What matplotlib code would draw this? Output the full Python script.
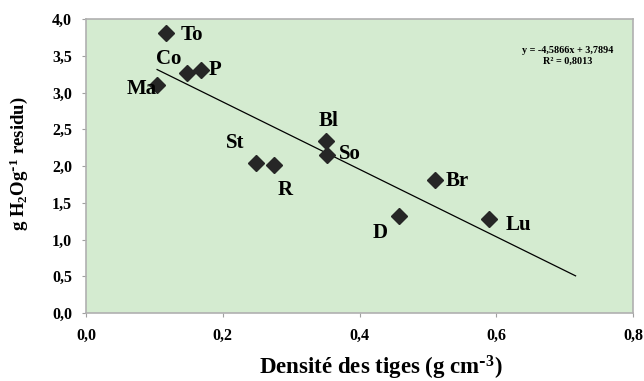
import numpy as np
import matplotlib.pyplot as plt

plt.rcParams['font.family'] = ['Liberation Serif', 'DejaVu Serif']
plt.rcParams['font.weight'] = 'bold'
plt.rcParams['mathtext.default'] = 'regular'

# species labels and values
labels = ['To', 'Co', 'P', 'Ma', 'St', 'R', 'Bl', 'So', 'Br', 'D', 'Lu']
densite = [0.117, 0.148, 0.168, 0.104, 0.249, 0.275, 0.351, 0.352, 0.510, 0.458, 0.589]
residu = [3.81, 3.26, 3.31, 3.10, 2.04, 2.01, 2.34, 2.15, 1.81, 1.32, 1.28]

slope, intercept = -4.5866, 3.7894
trend_x = [0.104, 0.716]

# label centre offsets from the marker, in pixels (dx, dy)
offsets = {
    'To': (26, -2), 'Co': (-19, 14), 'P': (14, 0), 'Ma': (-15, -4),
    'St': (-21, 20), 'R': (11, -25), 'Bl': (3, 20), 'So': (23, 1),
    'Br': (23, -1), 'D': (-19, -17), 'Lu': (30, -6),
}

fig = plt.figure(figsize=(6.44, 3.81), dpi=100)
ax = fig.add_axes([86 / 644, 1 - 313 / 381, (633 - 86) / 644, (313 - 19) / 381])
ax.set_facecolor('#d4ebd0')

ax.plot(densite, residu, 'D', color='#262626', markersize=8.3, zorder=3)
tx = np.array(trend_x)
ax.plot(tx, slope * tx + intercept, color='black', linewidth=0.9, zorder=2)

for lab, x, y in zip(labels, densite, residu):
    dx, dy = offsets[lab]
    ax.annotate(lab, (x, y), xytext=(dx, dy), textcoords='offset pixels',
                ha='center', va='center', fontsize=15, fontweight='bold')

ax.text(0.705, 3.50, 'y = -4,5866x + 3,7894\nR² = 0,8013', fontsize=7.3,
        fontweight='bold', ha='center', va='center', linespacing=1.2)

ticks_x = np.arange(0, 0.81, 0.2)
ticks_y = np.arange(0, 4.01, 0.5)
ax.set_xlim(0, 0.8)
ax.set_ylim(0, 4.0)
ax.set_xticks(ticks_x)
ax.set_yticks(ticks_y)
ax.set_xticklabels([f'{v:.1f}'.replace('.', ',') for v in ticks_x])
ax.set_yticklabels([f'{v:.1f}'.replace('.', ',') for v in ticks_y])
ax.tick_params(labelsize=11.5, color='#a0a0a0', length=3)
ax.tick_params(axis='x', pad=8)
ax.tick_params(axis='y', pad=7)
for sp in ax.spines.values():
    sp.set_color('#b0b0b0')
    sp.set_linewidth(1.2)

fig.text(381 / 644, 1 - 374 / 381, r'Densité des tiges (g cm$^{\text{-}3}$)', fontsize=16.5,
         fontweight='bold', ha='center', va='baseline')
fig.text(19 / 644, 1 - 164 / 381, r'g H$_2$Og$^{\text{-}1}$ residu)', fontsize=13.5,
         fontweight='bold', ha='center', va='center', rotation=90)

fig.savefig('out.png', dpi=100)
